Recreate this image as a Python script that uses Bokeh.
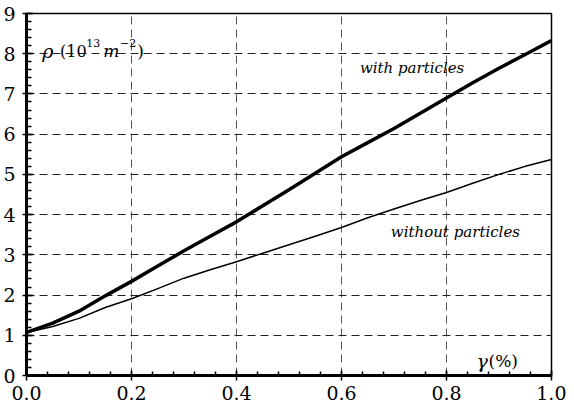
from bokeh.plotting import figure
from bokeh.models import Range1d, FixedTicker, NumeralTickFormatter, Label
from bokeh.embed import file_html
from bokeh.resources import INLINE

# strain gamma (%)
gamma = [0.0, 0.05, 0.1, 0.15, 0.2, 0.25, 0.3, 0.35, 0.4, 0.45, 0.5,
         0.55, 0.6, 0.65, 0.7, 0.75, 0.8, 0.85, 0.9, 0.95, 1.0]
# dislocation density rho (1e13 m^-2)
rho_with = [1.07, 1.30, 1.60, 1.98, 2.34, 2.72, 3.10, 3.46, 3.82, 4.22, 4.62,
            5.03, 5.44, 5.79, 6.14, 6.52, 6.90, 7.28, 7.64, 7.98, 8.33]
rho_without = [1.07, 1.22, 1.42, 1.69, 1.91, 2.16, 2.42, 2.63, 2.83, 3.04, 3.25,
               3.46, 3.68, 3.92, 4.14, 4.35, 4.55, 4.78, 5.00, 5.20, 5.37]

x_ticks = [0.0, 0.2, 0.4, 0.6, 0.8, 1.0]
y_ticks = [0, 1, 2, 3, 4, 5, 6, 7, 8, 9]
x_minor = [i * 0.04 for i in range(26)]
y_minor = [i * 0.2 for i in range(46)]

label_with = "with particles"
label_without = "without particles"

FONT = "DejaVu Serif"

p = figure(width=566, height=412, output_backend="svg", toolbar_location=None,
           x_range=Range1d(0, 1), y_range=Range1d(0, 9),
           min_border_left=25, min_border_right=15, min_border_top=13,
           min_border_bottom=37, background_fill_color="white",
           border_fill_color="white")

p.outline_line_color = "black"
p.outline_line_width = 1.5
p.outline_line_alpha = 1.0

p.xaxis.ticker = FixedTicker(ticks=x_ticks, minor_ticks=x_minor)
p.yaxis.ticker = FixedTicker(ticks=y_ticks, minor_ticks=y_minor)
p.xaxis.formatter = NumeralTickFormatter(format="0.0")

for ax in (p.xaxis, p.yaxis):
    ax.axis_line_width = 3
    ax.axis_line_color = "black"
    ax.major_tick_line_width = 1.5
    ax.minor_tick_line_width = 1.5
    ax.major_tick_line_color = "black"
    ax.minor_tick_line_color = "black"
    ax.major_label_text_color = "black"
    ax.major_label_text_font = FONT
    ax.major_label_text_font_size = "19px"
    ax.minor_tick_out = 0

p.xaxis.major_tick_in = 5
p.xaxis.major_tick_out = 5
p.xaxis.minor_tick_in = 4
p.xaxis.major_label_standoff = 5
p.yaxis.major_tick_in = 7
p.yaxis.major_tick_out = 4
p.yaxis.minor_tick_in = 5
p.yaxis.major_label_standoff = 7

p.xgrid.ticker = FixedTicker(ticks=x_ticks[1:-1])
p.ygrid.ticker = FixedTicker(ticks=y_ticks[1:-1])
p.xgrid.grid_line_color = "#555555"
p.ygrid.grid_line_color = "#222222"
for g in (p.xgrid, p.ygrid):
    g.grid_line_dash = "8 5"
    g.grid_line_width = 1

p.line(gamma, rho_with, line_color="black", line_width=3.5, line_join="round")
p.line(gamma, rho_without, line_color="black", line_width=1.5, line_join="round")

def lab(x, y, t, size, style="normal", font=FONT):
    p.add_layout(Label(x=x, y=y, text=t, text_font=font, text_font_size=size,
                       text_font_style=style, text_color="black",
                       text_baseline="alphabetic", text_align="left"))

# y-axis title: rho(10^13 m^-2)
lab(0.030, 8.06, "\u03c1", "19px", "italic")
lab(0.064, 8.06, "(10", "16px")
lab(0.114, 8.27, "13", "11px")
lab(0.146, 8.06, "m", "17px", "italic")
lab(0.178, 8.27, "\u22122", "11px")
lab(0.211, 8.06, ")", "17px")

# x-axis title: gamma(%)
lab(0.857, 0.37, "\u03b3", "19px", "italic")
lab(0.880, 0.37, "(%)", "17px")

lab(0.635, 7.65, label_with, "15px", "italic")
lab(0.694, 3.58, label_without, "15px", "italic")

open("out.html", "w").write(file_html(p, INLINE))
